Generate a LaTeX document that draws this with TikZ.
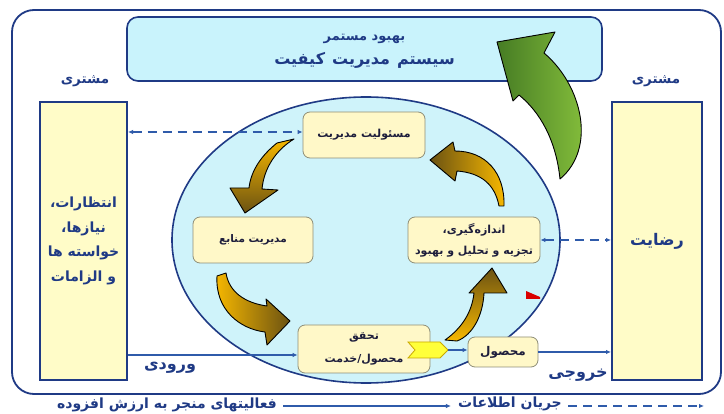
\documentclass[tikz,border=0pt]{standalone}
\usepackage{fontspec}
\newfontfamily\fa[Script=Arabic]{DejaVu Sans}
\TeXXeTstate=1
\usetikzlibrary{arrows.meta,shapes.geometric}
\newcommand\fatext[1]{{\fa\bfseries\beginR #1\endR}}
\definecolor{navy}{HTML}{1F3A85}
\definecolor{flowblue}{HTML}{2F5BAA}
\definecolor{cyanfill}{HTML}{C9F3FC}
\definecolor{ellfill}{HTML}{CFF3FA}
\definecolor{yelfill}{HTML}{FFFCC8}
\definecolor{boxfill}{HTML}{FFF8C8}
\definecolor{boxline}{HTML}{8E8E78}
\definecolor{goldA}{HTML}{F7B800}
\definecolor{goldB}{HTML}{6B5212}
\definecolor{greenA}{HTML}{8CC63E}
\definecolor{greenB}{HTML}{467C24}
\definecolor{chevfill}{HTML}{FFFF3A}
\definecolor{chevline}{HTML}{C9A800}
\definecolor{nodetext}{HTML}{1E1E3C}
\begin{document}
\begin{tikzpicture}[x=1pt,y=-1pt,
  frame/.style={draw=navy,line width=1.8pt},
  custbox/.style={draw=navy,line width=2pt,fill=yelfill,inner sep=0pt},
  inbox/.style={draw=boxline,line width=0.8pt,fill=boxfill,rounded corners=7pt,
    inner sep=0pt,align=center,text=nodetext,font=\fontsize{11}{21}\selectfont},
  lbl/.style={text=navy,font=\fontsize{13.5}{15}\selectfont,inner sep=1pt},
  flow/.style={draw=flowblue,line width=1.2pt,-{Latex[length=5pt,width=4.5pt]}},
  info/.style={draw=flowblue,line width=1.2pt,dash pattern=on 9pt off 6pt,
    {Latex[length=5pt,width=4.5pt]}-{Latex[length=5pt,width=4.5pt]}},
  goldarrow/.style={draw=black,line width=0.9pt,line join=round},
]
\useasboundingbox (0,0) rectangle (724,414);
\fill[white] (0,0) rectangle (724,414);

% outer frame
\draw[frame,rounded corners=22pt] (12,10) rectangle (721,394);

% top box
\node[draw=navy,line width=1.6pt,fill=cyanfill,rounded corners=11pt,
  minimum width=475pt,minimum height=64pt,text=navy,inner sep=0pt] (top) at (364.5,49)
  {\raisebox{-4pt}[0pt][0pt]{\begin{tabular}{c}
   \fontsize{13}{15}\selectfont\fatext{بهبود مستمر}\\[8pt]
   \fontsize{16}{18}\selectfont\fatext{سیستم\hspace{7pt}مدیریت\hspace{7pt}کیفیت}
   \end{tabular}}};

% customer labels
\node[lbl] (custL) at (85,81) {\fatext{مشتری}};
\node[lbl] (custR) at (656,81) {\fatext{مشتری}};

% customer boxes
\node[custbox,minimum width=87pt,minimum height=278pt,align=center,text=navy,
  font=\fontsize{14}{24.5}\selectfont] (req) at (83.5,241)
  {\fatext{انتظارات،}\\\fatext{نیازها،}\\\fatext{خواسته ها}\\\fatext{و الزامات}};
\node[custbox,minimum width=90pt,minimum height=278pt,text=navy,
  font=\fontsize{16}{18}\selectfont] (sat) at (657,241) {\fatext{رضایت}};

% ellipse
\node[ellipse,draw=navy,line width=1.6pt,fill=ellfill,
  minimum width=388pt,minimum height=286pt,inner sep=0pt] (ell) at (366,240) {};

% inner process boxes
\node[inbox,minimum width=122pt,minimum height=46pt] (mas) at (364,135) {\fatext{مسئولیت مدیریت}};
\node[inbox,minimum width=120pt,minimum height=46pt,font=\fontsize{10.5}{13}\selectfont] (man) at (253,240) {\fatext{مدیریت منابع}};
\node[inbox,minimum width=132pt,minimum height=46pt] (meas) at (474,240)
  {\fatext{اندازه‌گیری،}\\\fatext{تجزیه و تحلیل و بهبود}};
\node[inbox,minimum width=132pt,minimum height=48pt,font=\fontsize{11}{23}\selectfont] (tah) at (364,349)
  {\fatext{تحقق}\\\fatext{محصول/خدمت}};
\node[inbox,minimum width=70pt,minimum height=30pt,font=\fontsize{12}{14}\selectfont] (mah) at (503,352) {\fatext{محصول}};

% golden curved arrows
\path[goldarrow,top color=goldA,bottom color=goldB]
  (277,143) .. controls (262,155) and (251,170) .. (249,188) -- (230,188) -- (245,213)
  -- (278,190) -- (262,189) .. controls (264,168) and (276,150) .. (294,139) -- cycle;
\path[goldarrow,left color=goldA,right color=goldB]
  (226,273) .. controls (229,292) and (245,303) .. (267,306) -- (266,299) -- (290,321)
  -- (267,345) -- (265,332) .. controls (240,329) and (215,310) .. (217,276) -- cycle;
\path[goldarrow,bottom color=goldA,top color=goldB]
  (445,340) .. controls (462,328) and (472,312) .. (474,293) -- (469,293) -- (492,268)
  -- (507,293) -- (484,293) .. controls (483,315) and (473,335) .. (457,341) -- cycle;
\path[goldarrow,right color=goldA,left color=goldB]
  (499,206) .. controls (495,185) and (482,173) .. (457,171) -- (455,181) -- (430,160)
  -- (453,142) -- (455,151) .. controls (485,151) and (505,172) .. (504,206) -- cycle;

% green improvement arrow
\path[goldarrow,left color=greenB,right color=greenA]
  (560,179) .. controls (556,140) and (540,112) .. (519,95) -- (513,101) -- (497,42)
  -- (555,32) -- (544,53) .. controls (582,85) and (597,148) .. (560,179) -- cycle;

% chevron
\path[fill=chevfill,draw=chevline,line width=0.8pt]
  (408,342) -- (440,342) -- (448,350) -- (440,358) -- (408,358) -- (415,350) -- cycle;
\coordinate (chev) at (448,350);

% red marker
\fill[red!85!black] (526,291) -- (540,297) -- (540,299) -- (526,299) -- cycle;

% flows
\coordinate (inY) at (0,355);
\draw[flow] (req.east |- inY) -- (tah.west |- inY);
\draw[flow] (chev) -- (mah.west |- chev);
\draw[flow] (mah.east) -- (sat.west |- mah.east);
\coordinate (topY) at (0,132);
\draw[info] (req.east |- topY) -- (mas.west |- topY);
\draw[info] (meas.east) -- (sat.west |- meas.east);

\node[lbl,font=\fontsize{16}{18}\selectfont] (inl) at (170,368) {\fatext{ورودی}};
\node[lbl,font=\fontsize{16}{18}\selectfont] (outl) at (578,375) {\fatext{خروجی}};

% legend
\node[lbl,font=\fontsize{14}{16}\selectfont] (leg1) at (167,405) {\fatext{فعالیتهای منجر به ارزش افزوده}};
\node[lbl,font=\fontsize{14}{16}\selectfont] (leg2) at (510,404) {\fatext{جریان اطلاعات}};
\coordinate (legend) at (704,406);
\coordinate (legY) at (0,406);
\draw[flow] ([xshift=5pt]leg1.east |- legY) -- ([xshift=-6pt]leg2.west |- legY);
\draw[draw=flowblue,line width=1.2pt,dash pattern=on 9pt off 6pt,-{Latex[length=5pt,width=4.5pt]}]
  ([xshift=5pt]leg2.east |- legend) -- (legend);
\end{tikzpicture}
\end{document}
